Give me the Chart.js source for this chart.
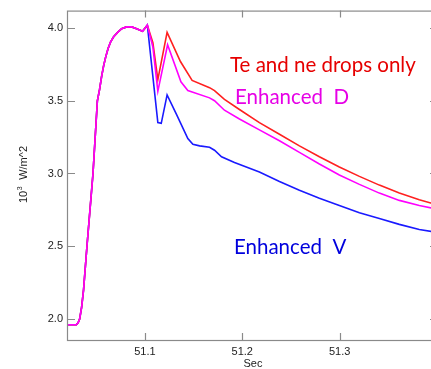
<!DOCTYPE html>
<html>
<head>
<meta charset="utf-8">
<script src="https://cdn.jsdelivr.net/npm/chart.js@4"></script>
<style>
  html, body { margin: 0; padding: 0; background: #fff; overflow: hidden; }
  #wrap { width: 438px; height: 369px; }
</style>
</head>
<body>
<div id="wrap"><canvas id="chartFlux" width="438" height="369"></canvas></div>
<script>
// axis range and tick labels
const xMin = 51.02, xMax = 51.40;
const yMin = 1.855, yMax = 4.12;
const xTicks = [51.1, 51.2, 51.3];
const yTicks = [2.0, 2.5, 3.0, 3.5, 4.0];

// common rise, shared by all three runs (units: 10^3 W/m^2)
const riseTime = [51.020, 51.0296, 51.0315, 51.033, 51.035, 51.037, 51.0405, 51.0467, 51.0512, 51.0535,
  51.0556, 51.0576, 51.0597, 51.0622, 51.0648, 51.0679, 51.072, 51.0761, 51.0812, 51.0864,
  51.0915, 51.0976, 51.1025];
const riseVal = [1.96, 1.96, 1.975, 2.0, 2.08, 2.2, 2.5, 3.0, 3.5, 3.58,
  3.67, 3.74, 3.80, 3.86, 3.905, 3.94, 3.97, 3.995, 4.008, 4.008,
  3.995, 3.978, 4.02];

// Te and ne drops only
const redTime = [51.1082, 51.1133, 51.1228, 51.1365, 51.1485, 51.1664, 51.1715, 51.1817, 51.1971,
  51.2176, 51.2382, 51.2587, 51.2792, 51.2997, 51.3203, 51.3408, 51.3613, 51.3818, 51.40];
const redVal = [3.90, 3.645, 3.97, 3.77, 3.64, 3.59, 3.57, 3.51, 3.44,
  3.35, 3.27, 3.19, 3.115, 3.045, 2.98, 2.92, 2.865, 2.82, 2.785];

// Enhanced D
const magTime = [51.1082, 51.1133, 51.1233, 51.137, 51.1441, 51.1664, 51.1715, 51.1817, 51.1971,
  51.2176, 51.2382, 51.2587, 51.2792, 51.2997, 51.3203, 51.3408, 51.3613, 51.3818, 51.40];
const magVal = [3.87, 3.565, 3.885, 3.63, 3.57, 3.52, 3.50, 3.435, 3.375,
  3.30, 3.225, 3.145, 3.065, 2.99, 2.925, 2.865, 2.815, 2.78, 2.755];

// Enhanced V
const blueTime = [51.1133, 51.1168, 51.1228, 51.1322, 51.1441, 51.1493, 51.1562, 51.1664, 51.1715,
  51.1787, 51.192, 51.2176, 51.2382, 51.2587, 51.2792, 51.2997, 51.3203, 51.3408, 51.3613,
  51.3818, 51.40];
const blueVal = [3.35, 3.345, 3.54, 3.41, 3.24, 3.20, 3.19, 3.18, 3.16,
  3.115, 3.075, 3.01, 2.945, 2.885, 2.83, 2.78, 2.73, 2.69, 2.65,
  2.615, 2.595];

function toPoints(times, vals) {
  const t = riseTime.concat(times);
  const v = riseVal.concat(vals);
  return t.map((x, i) => ({ x: x, y: v[i] }));
}

const labels = [
  { text: 'Te and ne drops only', x: 230, y: 72, color: '#e60000' },
  { text: 'Enhanced  D', x: 235, y: 104, color: '#e600e6' },
  { text: 'Enhanced  V', x: 234, y: 254, color: '#0000dd' }
];

const framePlugin = {
  id: 'frame',
  afterDraw(chart) {
    const ctx = chart.ctx;
    const a = chart.chartArea;
    const x = chart.scales.x, y = chart.scales.y;
    ctx.save();
    ctx.strokeStyle = '#8a8a8a';
    ctx.lineWidth = 1.2;
    ctx.strokeRect(a.left + 0.5, a.top + 0.5, a.right - a.left, a.bottom - a.top);
    ctx.beginPath();
    yTicks.forEach(v => {
      const py = Math.round(y.getPixelForValue(v)) + 0.5;
      ctx.moveTo(a.left, py); ctx.lineTo(a.left + 8, py);
      ctx.moveTo(a.right, py); ctx.lineTo(a.right - 7, py);
    });
    xTicks.forEach(v => {
      const px = Math.round(x.getPixelForValue(v)) + 0.5;
      ctx.moveTo(px, a.bottom); ctx.lineTo(px, a.bottom - 7);
      ctx.moveTo(px, a.top); ctx.lineTo(px, a.top + 7);
    });
    ctx.stroke();

    // axis titles
    ctx.fillStyle = '#222';
    ctx.font = '11px "Liberation Sans", Arial, sans-serif';
    ctx.textAlign = 'center';
    ctx.textBaseline = 'alphabetic';
    ctx.fillText('Sec', 253, 367);

    ctx.translate(27, 175);
    ctx.rotate(-Math.PI / 2);
    ctx.textAlign = 'left';
    const w1 = ctx.measureText('10').width;
    ctx.font = '7px "Liberation Sans", Arial, sans-serif';
    const w2 = ctx.measureText('3').width;
    ctx.font = '11px "Liberation Sans", Arial, sans-serif';
    const w3 = ctx.measureText('  W/m^2').width;
    let sx = -(w1 + w2 + w3) / 2;
    ctx.fillText('10', sx, 0);
    ctx.font = '7px "Liberation Sans", Arial, sans-serif';
    ctx.fillText('3', sx + w1 + 0.5, -5);
    ctx.font = '11px "Liberation Sans", Arial, sans-serif';
    ctx.fillText('  W/m^2', sx + w1 + w2 + 1, 0);
    ctx.restore();

    // run labels
    ctx.save();
    ctx.font = '20.5px Lato, "Open Sans", sans-serif';
    ctx.textAlign = 'left';
    ctx.textBaseline = 'alphabetic';
    labels.forEach(l => {
      ctx.fillStyle = l.color;
      ctx.fillText(l.text, l.x, l.y);
    });
    ctx.restore();
  }
};

const config = {
  type: 'line',
  data: {
    datasets: [
      { label: 'Enhanced D', data: toPoints(magTime, magVal), borderColor: '#ff00ff', borderWidth: 1.6, pointRadius: 0, tension: 0 },
      { label: 'Te and ne drops only', data: toPoints(redTime, redVal), borderColor: '#ff2020', borderWidth: 1.6, pointRadius: 0, tension: 0 },
      { label: 'Enhanced V', data: toPoints(blueTime, blueVal), borderColor: '#1a1aff', borderWidth: 1.6, pointRadius: 0, tension: 0 }
    ]
  },
  options: {
    responsive: false,
    animation: false,
    layout: { padding: { top: 10, right: 1, bottom: 0, left: 0 } },
    plugins: { legend: { display: false }, tooltip: { enabled: false } },
    scales: {
      x: {
        type: 'linear', min: xMin, max: xMax,
        grid: { display: false, drawTicks: false },
        border: { display: false },
        afterBuildTicks: s => { s.ticks = xTicks.map(v => ({ value: v })); },
        afterFit: s => { s.height = 29; },
        ticks: {
          padding: 5, color: '#222',
          font: { family: '"Liberation Sans", Arial, sans-serif', size: 11 },
          callback: v => v.toFixed(1)
        }
      },
      y: {
        type: 'linear', min: yMin, max: yMax,
        grid: { display: false, drawTicks: false },
        border: { display: false },
        afterBuildTicks: s => { s.ticks = yTicks.map(v => ({ value: v })); },
        afterFit: s => { s.width = 67; },
        ticks: {
          padding: 4, color: '#222',
          font: { family: '"Liberation Sans", Arial, sans-serif', size: 11 },
          callback: v => v.toFixed(1)
        }
      }
    }
  },
  plugins: [framePlugin]
};

const chartFlux = new Chart(document.getElementById('chartFlux'), config);
</script>
</body>
</html>
